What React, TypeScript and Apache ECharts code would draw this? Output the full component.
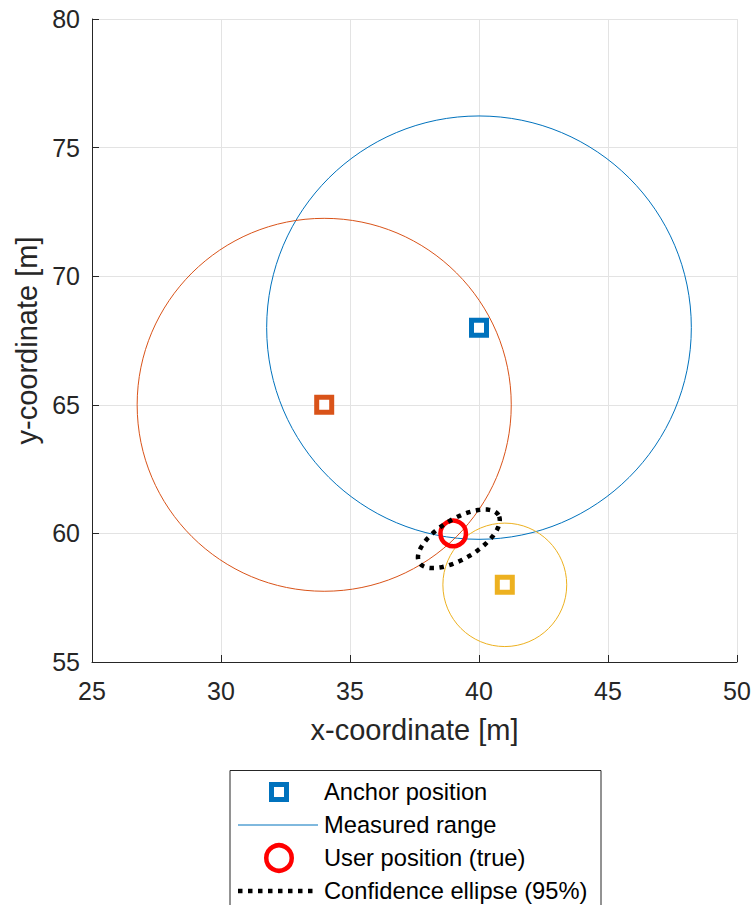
import React, { useEffect, useRef } from "react";
import * as echarts from "echarts";

// ---- data ----
const anchorX = [40, 34, 41];
const anchorY = [68, 65, 58];
const measuredRange = [8.23, 7.25, 2.4];
const anchorColors = ["#0072BD", "#D95319", "#EDB120"];
const userPosition = [39, 60];
const ellipseCenter = [39.22, 59.79];
const ellipseSemiAxes = [1.79, 0.78];
const ellipseAngleDeg = 31;
const xTicks = { min: 25, max: 50, interval: 5 };
const yTicks = { min: 55, max: 80, interval: 5 };
const legendLabels = [
  "Anchor position",
  "Measured range",
  "User position (true)",
  "Confidence ellipse (95%)",
];

const FONT = "'Liberation Sans', Arial, Helvetica, sans-serif";
const AXIS_COLOR = "#262626";

export default function App() {
  const ref = useRef<HTMLDivElement>(null);
  useEffect(() => {
    if (!ref.current) return;
    const chart = echarts.init(ref.current, null, { renderer: "svg" });

    const lx = 238;
    const rowY = [792, 825, 858, 891];
    const textX = 324;

    const option: any = {
      animation: false,
      backgroundColor: "#ffffff",
      grid: { left: 92, right: 17, top: 19, bottom: 243, containLabel: false },
      xAxis: {
        type: "value",
        min: xTicks.min,
        max: xTicks.max,
        interval: xTicks.interval,
        name: "x-coordinate [m]",
        nameLocation: "middle",
        nameGap: 53,
        nameTextStyle: { fontFamily: FONT, fontSize: 29, color: AXIS_COLOR },
        axisLine: { show: true, onZero: false, lineStyle: { color: AXIS_COLOR, width: 1 } },
        axisTick: { show: true, inside: true, length: 7, lineStyle: { color: AXIS_COLOR } },
        axisLabel: { fontFamily: FONT, fontSize: 25, color: AXIS_COLOR, margin: 16 },
        splitLine: { show: true, lineStyle: { color: "#e3e3e3", width: 1 } },
      },
      yAxis: {
        type: "value",
        min: yTicks.min,
        max: yTicks.max,
        interval: yTicks.interval,
        name: "y-coordinate [m]",
        nameLocation: "middle",
        nameGap: 46,
        nameTextStyle: { fontFamily: FONT, fontSize: 29, color: AXIS_COLOR },
        axisLine: { show: true, onZero: false, lineStyle: { color: AXIS_COLOR, width: 1 } },
        axisTick: { show: true, inside: true, length: 7, lineStyle: { color: AXIS_COLOR } },
        axisLabel: { fontFamily: FONT, fontSize: 25, color: AXIS_COLOR, margin: 12 },
        splitLine: { show: true, lineStyle: { color: "#e3e3e3", width: 1 } },
      },
      series: [
        {
          type: "custom",
          coordinateSystem: "cartesian2d",
          silent: true,
          z: 2,
          data: anchorX.map((x, i) => [x, anchorY[i], measuredRange[i]]),
          renderItem: (params: any, api: any) => {
            const c = api.coord([api.value(0), api.value(1)]);
            const s = api.size([api.value(2), api.value(2)]);
            return {
              type: "ellipse",
              shape: { cx: c[0], cy: c[1], rx: s[0], ry: s[1] },
              style: { fill: "none", stroke: anchorColors[params.dataIndex], lineWidth: 1 },
            };
          },
        },
        {
          type: "scatter",
          silent: true,
          z: 3,
          symbol: "rect",
          symbolSize: 15,
          itemStyle: { color: "#ffffff", borderWidth: 5, opacity: 1 },
          data: anchorX.map((x, i) => ({
            value: [x, anchorY[i]],
            itemStyle: { color: "#ffffff", borderColor: anchorColors[i], borderWidth: 5, opacity: 1 },
          })),
        },
        {
          type: "scatter",
          silent: true,
          z: 4,
          symbol: "circle",
          symbolSize: 25.5,
          itemStyle: { color: "rgba(0,0,0,0)", borderColor: "#FF0000", borderWidth: 4.5, opacity: 1 },
          data: [userPosition],
        },
        {
          type: "custom",
          coordinateSystem: "cartesian2d",
          silent: true,
          z: 5,
          data: [[ellipseCenter[0], ellipseCenter[1], ellipseSemiAxes[0], ellipseSemiAxes[1], ellipseAngleDeg]],
          renderItem: (params: any, api: any) => {
            const cx = api.value(0);
            const cy = api.value(1);
            const a = api.value(2);
            const b = api.value(3);
            const th = (api.value(4) * Math.PI) / 180;
            const pts: number[][] = [];
            const N = 160;
            for (let k = 0; k < N; k++) {
              const t = (2 * Math.PI * k) / N;
              const x = cx + a * Math.cos(t) * Math.cos(th) - b * Math.sin(t) * Math.sin(th);
              const y = cy + a * Math.cos(t) * Math.sin(th) + b * Math.sin(t) * Math.cos(th);
              pts.push(api.coord([x, y]));
            }
            return {
              type: "polygon",
              shape: { points: pts },
              style: { fill: "none", stroke: "#000000", lineWidth: 4.5, lineDash: [4.5, 5.5] },
            };
          },
        },
      ],
      graphic: [
        {
          type: "rect",
          shape: { x: 230, y: 770.5, width: 371, height: 150 },
          style: { fill: "#ffffff", stroke: AXIS_COLOR, lineWidth: 1 },
          z: 10,
        },
        {
          type: "rect",
          shape: { x: 279 - 7.5, y: rowY[0] - 7.5, width: 15, height: 15 },
          style: { fill: "#ffffff", stroke: anchorColors[0], lineWidth: 5 },
          z: 11,
        },
        {
          type: "line",
          shape: { x1: lx, y1: rowY[1], x2: 318, y2: rowY[1] },
          style: { stroke: anchorColors[0], lineWidth: 1 },
          z: 11,
        },
        {
          type: "circle",
          shape: { cx: 279, cy: rowY[2], r: 12.75 },
          style: { fill: "none", stroke: "#FF0000", lineWidth: 4.5 },
          z: 11,
        },
        {
          type: "line",
          shape: { x1: lx, y1: rowY[3], x2: 318, y2: rowY[3] },
          style: { stroke: "#000000", lineWidth: 4.5, lineDash: [4.5, 5.5] },
          z: 11,
        },
        ...legendLabels.map((t, i) => ({
          type: "text",
          x: textX,
          y: rowY[i],
          z: 11,
          style: {
            text: t,
            fontFamily: FONT,
            fontSize: 23.7,
            fill: "#000000",
            verticalAlign: "middle",
            align: "left",
          },
        })),
      ],
    };
    chart.setOption(option);
    return () => chart.dispose();
  }, []);
  return (
    <div
      ref={ref}
      style={{ position: "fixed", left: 0, top: 0, width: 754, height: 905, background: "#fff" }}
    />
  );
}
